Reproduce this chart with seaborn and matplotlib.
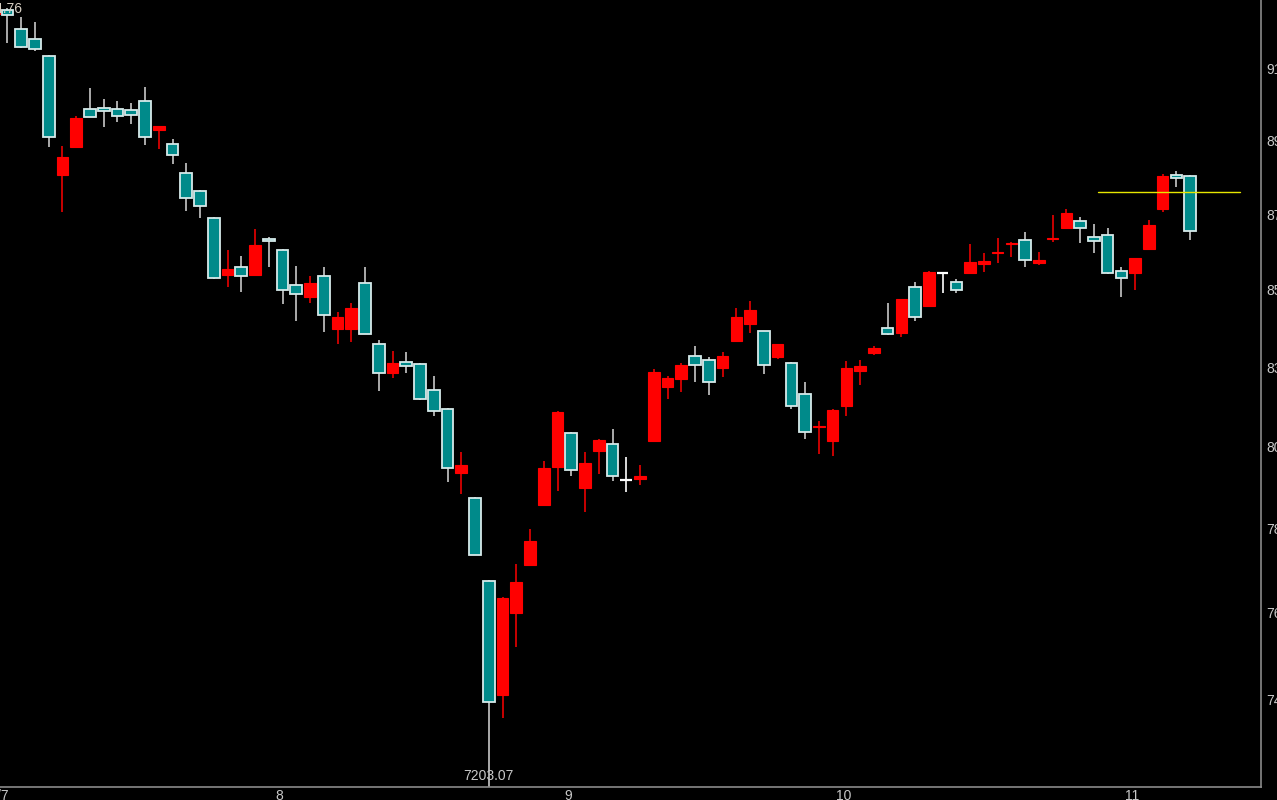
import numpy as np
import pandas as pd
import matplotlib
matplotlib.use("Agg")
import matplotlib.pyplot as plt
import matplotlib.transforms as mtransforms
import seaborn as sns
from matplotlib.ticker import NullLocator

# daily bars; the first one sits just left of the visible window (it holds the high)
opens = [9352.0, 9363.4, 9302.1, 9272.2, 9219.0, 8856.2, 8940.1, 9055.6, 9058.7, 9055.6,
         9052.6, 9080.0, 8991.8, 8949.2, 8862.2, 8808.4, 8728.6, 8562.3, 8585.4, 8562.3,
         8667.8, 8634.6, 8533.4, 8498.7, 8559.4, 8407.6, 8407.6, 8539.2, 8365.0, 8283.8,
         8314.5, 8308.9, 8236.4, 8183.9, 8009.2, 7941.7, 7722.6, 7431.2, 7639.6, 7764.4,
         7923.0, 8025.4, 8118.0, 7968.7, 8068.6, 8087.8, 7990.3, 7993.0, 8096.0, 8244.8,
         8267.1, 8331.3, 8320.1, 8297.8, 8373.6, 8421.8, 8402.0, 8328.5, 8311.7, 8225.3,
         8133.1, 8096.0, 8192.1, 8289.4, 8339.6, 8410.5, 8396.3, 8527.6, 8473.0, 8568.1,
         8542.1, 8568.1, 8594.1, 8624.5, 8650.8, 8664.0, 8597.0, 8665.4, 8699.2, 8719.8,
         8672.8, 8678.7, 8573.9, 8568.1, 8637.6, 8755.1, 8856.2, 8853.3]
highs = [9394.76, 9369.6, 9341.3, 9325.6, 9221.0, 8943.2, 9034.4, 9120.1, 9086.1, 9080.0,
         9073.9, 9123.2, 9005.0, 8964.4, 8892.1, 8811.0, 8730.0, 8634.6, 8617.2, 8696.3,
         8672.8, 8636.0, 8588.3, 8559.4, 8585.4, 8455.9, 8481.5, 8585.4, 8376.4, 8345.2,
         8342.4, 8310.0, 8275.5, 8185.0, 8065.9, 7943.0, 7724.0, 7680.0, 7767.0, 7859.3,
         8041.6, 8177.0, 8120.7, 8065.9, 8101.5, 8129.0, 8052.4, 8030.8, 8295.0, 8275.5,
         8311.7, 8359.4, 8328.5, 8342.4, 8467.3, 8487.2, 8403.0, 8366.0, 8313.0, 8258.7,
         8150.9, 8182.0, 8317.3, 8320.1, 8359.4, 8481.5, 8494.0, 8542.1, 8573.9, 8569.0,
         8550.7, 8652.2, 8625.9, 8669.9, 8658.1, 8687.5, 8628.8, 8737.4, 8755.1, 8731.6,
         8711.0, 8699.2, 8585.4, 8612.0, 8722.7, 8859.2, 8868.2, 8855.0]
lows = [9340.0, 9259.6, 9245.0, 9234.5, 8940.1, 8746.2, 8938.0, 9030.0, 9000.9, 9016.1,
        9010.0, 8946.2, 8934.0, 8889.1, 8747.7, 8728.6, 8550.7, 8527.6, 8513.1, 8560.0,
        8585.4, 8478.6, 8430.4, 8481.5, 8399.1, 8365.0, 8370.7, 8392.0, 8233.6, 8269.9,
        8283.8, 8208.6, 8164.7, 7984.9, 7952.5, 7789.0, 7203.07, 7373.9, 7552.4, 7763.0,
        7921.0, 7960.6, 8001.1, 7904.5, 8006.5, 7987.6, 7957.9, 7976.8, 8095.0, 8211.3,
        8230.8, 8258.7, 8222.5, 8272.7, 8372.0, 8396.3, 8281.0, 8322.9, 8183.9, 8101.5,
        8060.5, 8055.1, 8164.7, 8250.4, 8334.0, 8390.6, 8384.9, 8430.4, 8472.0, 8510.2,
        8510.2, 8567.0, 8571.0, 8597.0, 8614.4, 8585.4, 8591.2, 8658.1, 8698.0, 8655.2,
        8625.9, 8565.2, 8498.7, 8518.9, 8636.0, 8746.2, 8820.4, 8664.0]
closes = [9372.0, 9347.6, 9247.0, 9240.7, 8970.5, 8910.1, 9028.3, 9031.3, 9049.6, 9034.4,
          9037.4, 8970.5, 9004.0, 8916.0, 8786.0, 8763.9, 8553.6, 8579.7, 8559.4, 8649.3,
          8660.2, 8518.9, 8507.4, 8539.2, 8447.4, 8441.7, 8467.3, 8393.4, 8283.8, 8311.7,
          8303.4, 8211.3, 8178.4, 8021.3, 8030.8, 7790.5, 7413.6, 7678.2, 7720.0, 7827.5,
          8022.7, 8175.6, 8017.3, 8036.2, 8098.8, 8001.1, 7990.3, 8001.1, 8286.6, 8269.9,
          8306.2, 8306.2, 8258.7, 8331.3, 8441.7, 8461.6, 8306.2, 8365.0, 8192.1, 8120.7,
          8135.8, 8181.1, 8297.8, 8303.4, 8353.7, 8393.4, 8492.9, 8441.7, 8571.0, 8568.1,
          8518.9, 8599.9, 8602.8, 8627.4, 8653.7, 8605.7, 8605.7, 8668.4, 8743.3, 8699.2,
          8661.0, 8568.1, 8553.6, 8611.5, 8708.1, 8853.3, 8847.3, 8690.4]
months = [7] * 21 + [8] * 21 + [9] * 20 + [10] * 21 + [11] * 5
price_ticks = [9180, 8960, 8740, 8520, 8300, 8080, 7860, 7640, 7420]
level = 8804.5

RED = "#ff0000"
TEAL = "#008a8a"
EDGE = "#d6eaea"
WICK = "#c8c8c8"
TXT = "#c8c8c8"

df = pd.DataFrame({"open": opens, "high": highs, "low": lows,
                   "close": closes, "month": months})
df["pos"] = np.arange(len(df))
up = df[df.close > df.open]
down = df[df.close < df.open]
flat = df[df.close == df.open]

sns.set_theme(style="dark", rc={"axes.facecolor": "black", "figure.facecolor": "black"})
plt.rcParams["font.family"] = ["Liberation Sans", "DejaVu Sans"]

fig = plt.figure(figsize=(12.77, 8), dpi=100)
ax = fig.add_axes([0, 13 / 800, 1261 / 1277, 787 / 800])
ax.set_yscale("log")

w = 0.84
ax.vlines(up.pos, up.low, up.high, color=RED, lw=1.1, zorder=2)
ax.bar(up.pos, up.close - up.open, bottom=up.open, width=w,
       color=RED, edgecolor=RED, lw=0.8, zorder=3)
ax.vlines(down.pos, down.low, down.high, color=WICK, lw=1.2, zorder=2)
ax.bar(down.pos, down.close - down.open, bottom=down.open, width=w,
       color=TEAL, edgecolor=EDGE, lw=1.3, zorder=3)
ax.vlines(flat.pos, flat.low, flat.high, color="white", lw=1.2, zorder=2)
ax.hlines(flat.open, flat.pos - w / 2, flat.pos + w / 2, color="white", lw=1.6, zorder=3)

# reference level near the last bars
last = df.pos.iloc[-1]
sns.lineplot(x=[last - 6.7, last + 3.65], y=[level, level], color="#e6e600",
             lw=1, ax=ax, zorder=4)

# extreme value labels
imax = df.high.idxmax()
imin = df.low.idxmin()
ax.annotate(f"{df.high[imax]:.2f}", (df.pos[imax], df.high[imax]), xytext=(2.5, -1.5),
            textcoords="offset points", ha="center", va="top", color="#d8d0c4",
            fontsize=10, annotation_clip=False)
ax.annotate(f"{df.low[imin]:.2f}", (df.pos[imin], df.low[imin]), xytext=(0, 3),
            textcoords="offset points", ha="center", va="bottom", color=TXT, fontsize=10)

ax.yaxis.tick_right()
ax.set_yticks(price_ticks)
ax.yaxis.set_minor_locator(NullLocator())
ax.set_yticklabels([str(t) for t in price_ticks])
ax.tick_params(axis="y", length=0, pad=3.6, colors=TXT, labelsize=10)

# month labels at the first bar of each month (first visible bar for the opening month)
firsts = df.groupby("month").pos.min().clip(lower=1)
ax.set_xticks(firsts.values)
ax.set_xticklabels(["/" + str(m) if k == 0 else str(m) for k, m in enumerate(firsts.index)])
ax.tick_params(axis="x", length=0, pad=1.5, colors=TXT, labelsize=10)
for k, lbl in enumerate(ax.get_xticklabels()):
    shift = 1 if k == 0 else -3
    if k == 0:
        lbl.set_ha("right")
    lbl.set_transform(lbl.get_transform()
                      + mtransforms.ScaledTranslation(shift / 100, 0, fig.dpi_scale_trans))

ax.set_xlim(0.455, 92.16)
ax.set_ylim(df.low.min(), df.high.max())

ax.grid(False)
for side in ["left", "top"]:
    ax.spines[side].set_visible(False)
for side in ["right", "bottom"]:
    ax.spines[side].set_color("#8a8a8a")
    ax.spines[side].set_linewidth(1.2)

fig.savefig("out.png", dpi=100, facecolor="black")
